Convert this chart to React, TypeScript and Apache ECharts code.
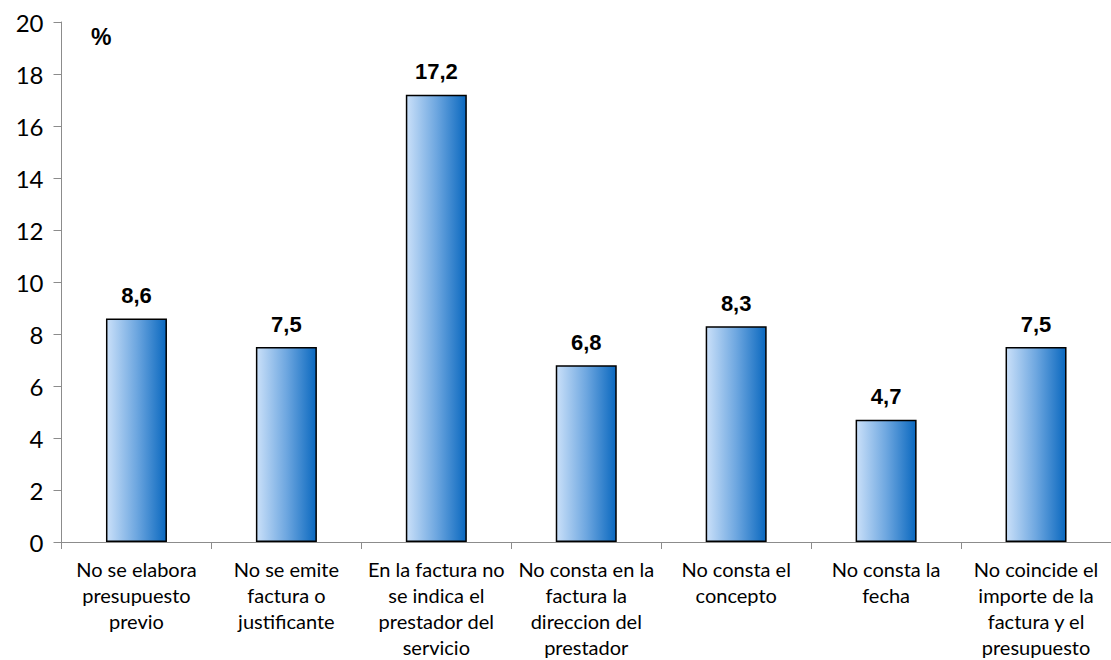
import React, { useEffect, useRef } from "react";
import * as echarts from "echarts";

// Categories (multi-line labels) and percentage values
const categories: string[] = [
  "No se elabora\npresupuesto\nprevio",
  "No se emite\nfactura o\njustificante",
  "En la factura no\nse indica el\nprestador del\nservicio",
  "No consta en la\nfactura la\ndireccion del\nprestador",
  "No consta el\nconcepto",
  "No consta la\nfecha",
  "No coincide el\nimporte de la\nfactura y el\npresupuesto",
];
const values: number[] = [8.6, 7.5, 17.2, 6.8, 8.3, 4.7, 7.5];

const yMin = 0;
const yMax = 20;
const yInterval = 2;

export default function App() {
  const ref = useRef<HTMLDivElement>(null);

  useEffect(() => {
    if (!ref.current) return;
    const chart = echarts.init(ref.current, undefined, { renderer: "svg" });
    const barFill = new echarts.graphic.LinearGradient(0, 0, 1, 0, [
      { offset: 0, color: "#cae0f9" },
      { offset: 0.5, color: "#6ea7e0" },
      { offset: 1, color: "#0a68bf" },
    ]);
    chart.setOption({
      animation: false,
      backgroundColor: "#ffffff",
      grid: { left: 61.5, right: -2, top: 22, bottom: 114, containLabel: false },
      graphic: [
        {
          type: "text",
          left: 91,
          top: 25,
          style: {
            text: "%",
            font: "bold 23px 'Liberation Sans', Arial, sans-serif",
            fill: "#000",
          },
        },
      ],
      xAxis: {
        type: "category",
        data: categories,
        axisLine: { show: true, lineStyle: { color: "#8c8c8c", width: 1 } },
        axisTick: { show: true, length: 7, alignWithLabel: false, lineStyle: { color: "#8c8c8c" } },
        axisLabel: {
          interval: 0,
          margin: 14,
          color: "#000",
          fontFamily: "Lato",
          fontSize: 20,
          lineHeight: 26,
          align: "center",
        },
        splitLine: { show: false },
      },
      yAxis: {
        type: "value",
        min: yMin,
        max: yMax,
        interval: yInterval,
        axisLine: { show: true, lineStyle: { color: "#8c8c8c", width: 1 } },
        axisTick: { show: true, inside: false, length: 8, lineStyle: { color: "#8c8c8c" } },
        axisLabel: {
          color: "#000",
          fontFamily: "Lato",
          fontSize: 24,
          margin: 18,
        },
        splitLine: { show: false },
      },
      series: [
        {
          type: "bar",
          data: values,
          barWidth: 61,
          itemStyle: {
            color: barFill,
            borderColor: "#000",
            borderWidth: 1.5,
          },
          label: {
            show: true,
            position: "top",
            distance: 12,
            formatter: (p: any) => String(p.value).replace(".", ","),
            color: "#000",
            fontFamily: "'Liberation Sans', Arial, sans-serif",
            fontWeight: "bold",
            fontSize: 22,
          },
        },
      ],
    });
    return () => chart.dispose();
  }, []);

  return (
    <div
      ref={ref}
      style={{ position: "absolute", left: 0, top: 0, width: 1111, height: 660 }}
    />
  );
}
